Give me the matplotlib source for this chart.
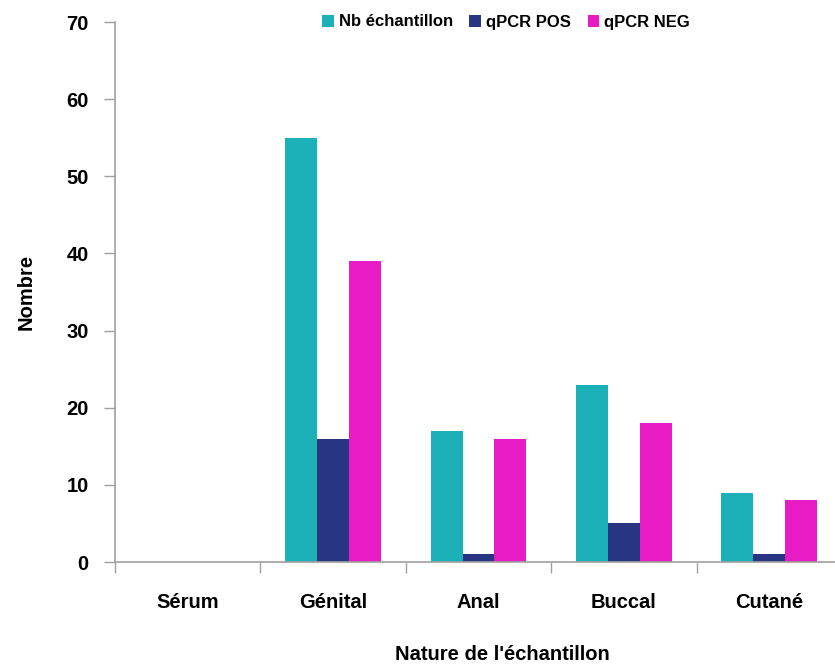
import matplotlib
matplotlib.use("Agg")
import matplotlib.pyplot as plt
import numpy as np

categories = ["Sérum", "Génital", "Anal", "Buccal", "Cutané"]
nb_echantillon = [0, 55, 17, 23, 9]
qpcr_pos = [0, 16, 1, 5, 1]
qpcr_neg = [0, 39, 16, 18, 8]
series_names = ["Nb échantillon", "qPCR POS", "qPCR NEG"]
colors = ["#1CB0B8", "#283583", "#E81CC4"]
yticks = [0, 10, 20, 30, 40, 50, 60, 70]

plt.rcParams['font.family'] = ['Liberation Sans Narrow', 'Liberation Sans', 'DejaVu Sans']
plt.rcParams['font.weight'] = 'bold'

fig = plt.figure(figsize=(8.35, 6.64), dpi=100)
ax = fig.add_axes([115/835, 102/664, 727/835, 540/664])

x = np.arange(len(categories))
w = 0.22
for i, (vals, name, c) in enumerate(zip([nb_echantillon, qpcr_pos, qpcr_neg], series_names, colors)):
    ax.bar(x + (i - 1) * w, vals, width=w, color=c, label=name, zorder=2)

ax.set_xlim(-0.5, len(categories) - 0.5)
ax.set_ylim(0, 70)
ax.set_yticks(yticks)
ax.set_yticklabels([str(t) for t in yticks], fontsize=14.5, fontweight='bold')
ax.set_xticks(x)
ax.set_xticklabels(categories, fontsize=14.5, fontweight='bold')
ax.tick_params(axis='x', which='major', length=0, pad=22)
ax.set_xticks(np.arange(-0.5, len(categories)), minor=True)
ax.tick_params(axis='x', which='minor', length=8, color='#A0A0A0', width=1)
ax.tick_params(axis='y', length=8, color='#A0A0A0', width=1, pad=11)

for s in ['top', 'right']:
    ax.spines[s].set_visible(False)
for s in ['left', 'bottom']:
    ax.spines[s].set_color('#A0A0A0')
    ax.spines[s].set_linewidth(1.2)

ax.set_ylabel("Nombre", fontsize=14.5, fontweight='bold', labelpad=22)
fig.text(502/835, 1 - 655/664, "Nature de l'échantillon", fontsize=14.5, fontweight='bold',
         ha='center', va='center')

leg = fig.legend(loc='center', bbox_to_anchor=(506/835, 1 - 22/664), ncol=3, frameon=False,
                 handlelength=0.7, handleheight=0.7, handletextpad=0.3,
                 columnspacing=1.0, prop={'weight': 'bold', 'size': 12})

fig.savefig("out.png", dpi=100)
